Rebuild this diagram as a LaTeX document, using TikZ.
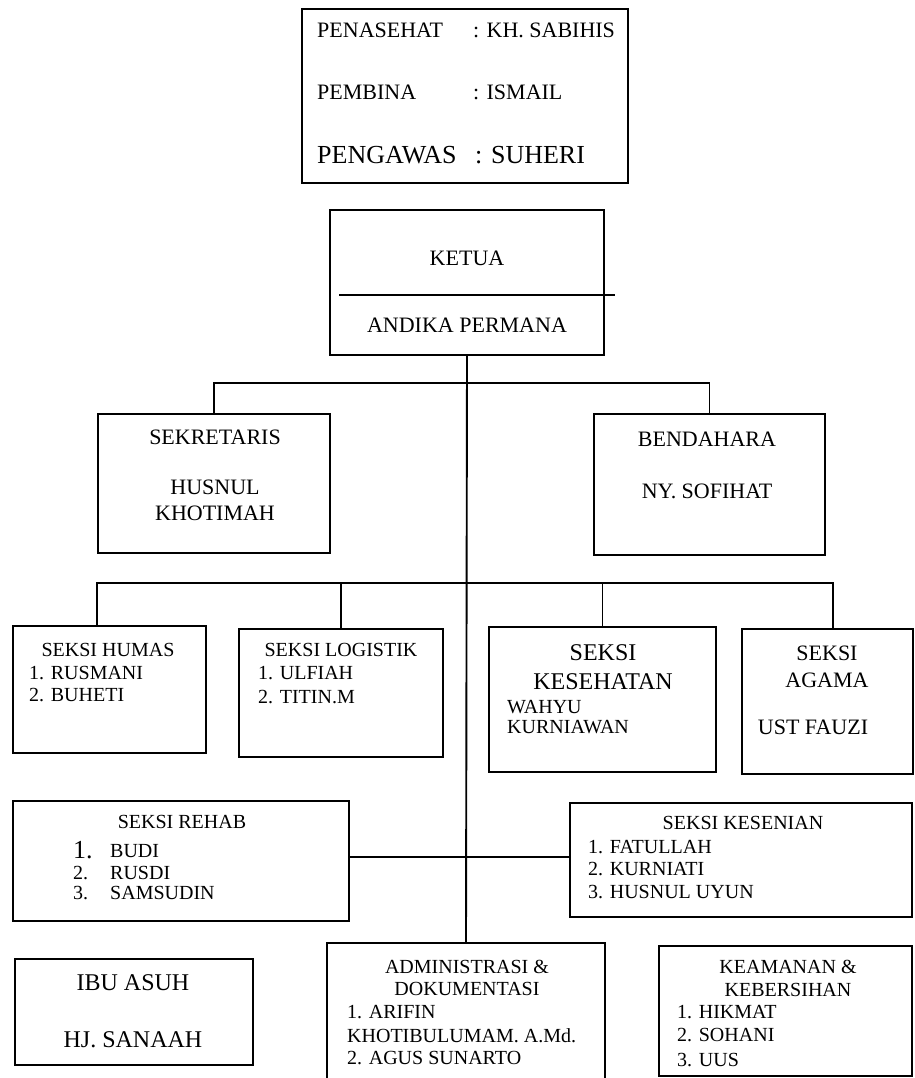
\documentclass[tikz,border=0pt]{standalone}
\usepackage{fontspec}
\setmainfont{Liberation Serif}
\usetikzlibrary{fit}
\tikzset{
  box/.style={draw, line width=1.9pt, rectangle, inner sep=0pt},
  conn/.style={line width=1.9pt},
  ta/.style={inner sep=0pt, font=\fontsize{20}{24}\selectfont},
  tb/.style={inner sep=0pt, font=\fontsize{22}{26}\selectfont},
  tc/.style={inner sep=0pt, font=\fontsize{24}{28}\selectfont},
  td/.style={inner sep=0pt, font=\fontsize{26}{30}\selectfont},
}
\begin{document}
\begin{tikzpicture}[x=1pt,y=-1pt]
\useasboundingbox (0,0) rectangle (914,1078);
\clip (0,0) rectangle (914,1078);
% boxes
\node[box, fit={(302,9) (628,183)}] (top) {};
\node[box, fit={(330,210) (604,355)}] (ketua) {};
\node[box, fit={(98,414) (330,553)}] (sek) {};
\node[box, fit={(594,414) (825,555)}] (ben) {};
\node[box, fit={(13,626) (206,753)}] (humas) {};
\node[box, fit={(239,629) (443,757)}] (logistik) {};
\node[box, fit={(489,627) (716,772)}] (kesehatan) {};
\node[box, fit={(742,629) (913,774)}] (agama) {};
\node[box, fit={(13,801) (349,921)}] (rehab) {};
\node[box, fit={(570,803) (912,917)}] (kesenian) {};
\node[box, fit={(15,959) (253,1065)}] (ibu) {};
\node[box, fit={(327,943) (605,1090)}] (admin) {};
\node[box, fit={(659,946) (912,1076)}] (keamanan) {};
% top box texts
\node[tb, anchor=west] (p1) at (317,30) {PENASEHAT};
\node[tb, anchor=west] (p1v) at (473,30) {: KH. SABIHIS};
\node[tb, anchor=west] (p2) at (317,92) {PEMBINA};
\node[tb, anchor=west] (p2v) at (473,92) {: ISMAIL};
\node[td, anchor=west] (p3) at (317,155) {PENGAWAS};
\node[td, anchor=west] (p3v) at (475,155) {: SUHERI};
% ketua
\node[tb] (k1) at (467,258) {KETUA};
\coordinate (kl1) at (339,295);
\coordinate (kl2) at (615,295);
\draw[line width=1.4pt] (kl1) -- (kl2);
\node[tb] (k2) at (467,325) {ANDIKA PERMANA};
% sekretaris / bendahara
\node[tb] (s1) at (215,437) {SEKRETARIS};
\node[tb] (s2) at (215,487) {HUSNUL};
\node[tb] (s3) at (215,513) {KHOTIMAH};
\node[tb] (b1) at (707,439) {BENDAHARA};
\node[tb] (b2) at (707,491) {NY. SOFIHAT};
% humas
\node[ta] (h1) at (108,650) {SEKSI HUMAS};
\node[ta, anchor=west] (h2t) at (29,673) {1. RUSMANI};
\node[ta, anchor=west] (h3t) at (29,695) {2. BUHETI};
% logistik
\node[ta] (l1) at (341,650) {SEKSI LOGISTIK};
\node[ta, anchor=west] (l2) at (258,673) {1. ULFIAH};
\node[ta, anchor=west] (l3) at (258,697) {2. TITIN.M};
% kesehatan
\node[tc] (ke1) at (603,653) {SEKSI};
\node[tc] (ke2) at (603,682) {KESEHATAN};
\node[ta, anchor=west] (ke3) at (507,707) {WAHYU};
\node[ta, anchor=west] (ke4) at (507,727) {KURNIAWAN};
% agama
\node[tb] (a1) at (827,653) {SEKSI};
\node[tb] (a2) at (827,680) {AGAMA};
\node[tb] (a3) at (813,727) {UST FAUZI};
% rehab
\node[ta] (r1) at (182,822) {SEKSI REHAB};
\node[td, anchor=west] (r2n) at (73,850) {1.};
\node[ta, anchor=west] (r2) at (110,851) {BUDI};
\node[ta, anchor=west] (r3n) at (73,873) {2.};
\node[ta, anchor=west] (r3) at (110,873) {RUSDI};
\node[ta, anchor=west] (r4n) at (73,893) {3.};
\node[ta, anchor=west] (r4) at (110,893) {SAMSUDIN};
% kesenian
\node[ta] (kn1) at (743,823) {SEKSI KESENIAN};
\node[ta, anchor=west] (kn2) at (588,847) {1. FATULLAH};
\node[ta, anchor=west] (kn3) at (588,869) {2. KURNIATI};
\node[ta, anchor=west] (kn4) at (588,892) {3. HUSNUL UYUN};
% ibu asuh
\node[tc] (i1) at (133,983) {IBU ASUH};
\node[tc] (i2) at (133,1040) {HJ. SANAAH};
% admin
\node[ta] (ad1) at (467,967) {ADMINISTRASI \&};
\node[ta] (ad2) at (467,989) {DOKUMENTASI};
\node[ta, anchor=west] (ad3) at (347,1012) {1. ARIFIN};
\node[ta, anchor=west] (ad4) at (347,1036) {KHOTIBULUMAM. A.Md.};
\node[ta, anchor=west] (ad5) at (347,1058) {2. AGUS SUNARTO};
% keamanan
\node[ta] (km1) at (788,967) {KEAMANAN \&};
\node[ta] (km2) at (788,990) {KEBERSIHAN};
\node[ta, anchor=west] (km3) at (677,1012) {1. HIKMAT};
\node[ta, anchor=west] (km4) at (677,1035) {2. SOHANI};
\node[ta, anchor=west] (km5) at (677,1060) {3. UUS};
% connectors
\draw[conn] (ketua.south) -- (admin.north);
\coordinate (j1) at (467,383);
\draw[conn] (sek.north) -- (sek.north |- j1) -- (ben.north |- j1) -- (ben.north);
\coordinate (hj) at (97,583);
\coordinate (aj) at (833,583);
\draw[conn] (hj |- humas.north) -- (hj) -- (aj) -- (aj |- agama.north);
\draw[conn] (logistik.north |- hj) -- (logistik.north);
\draw[conn] (kesehatan.north |- hj) -- (kesehatan.north);
\coordinate (rj) at (349,857);
\draw[conn] (rehab.east |- rj) -- (kesenian.west |- rj);
\end{tikzpicture}
\end{document}
